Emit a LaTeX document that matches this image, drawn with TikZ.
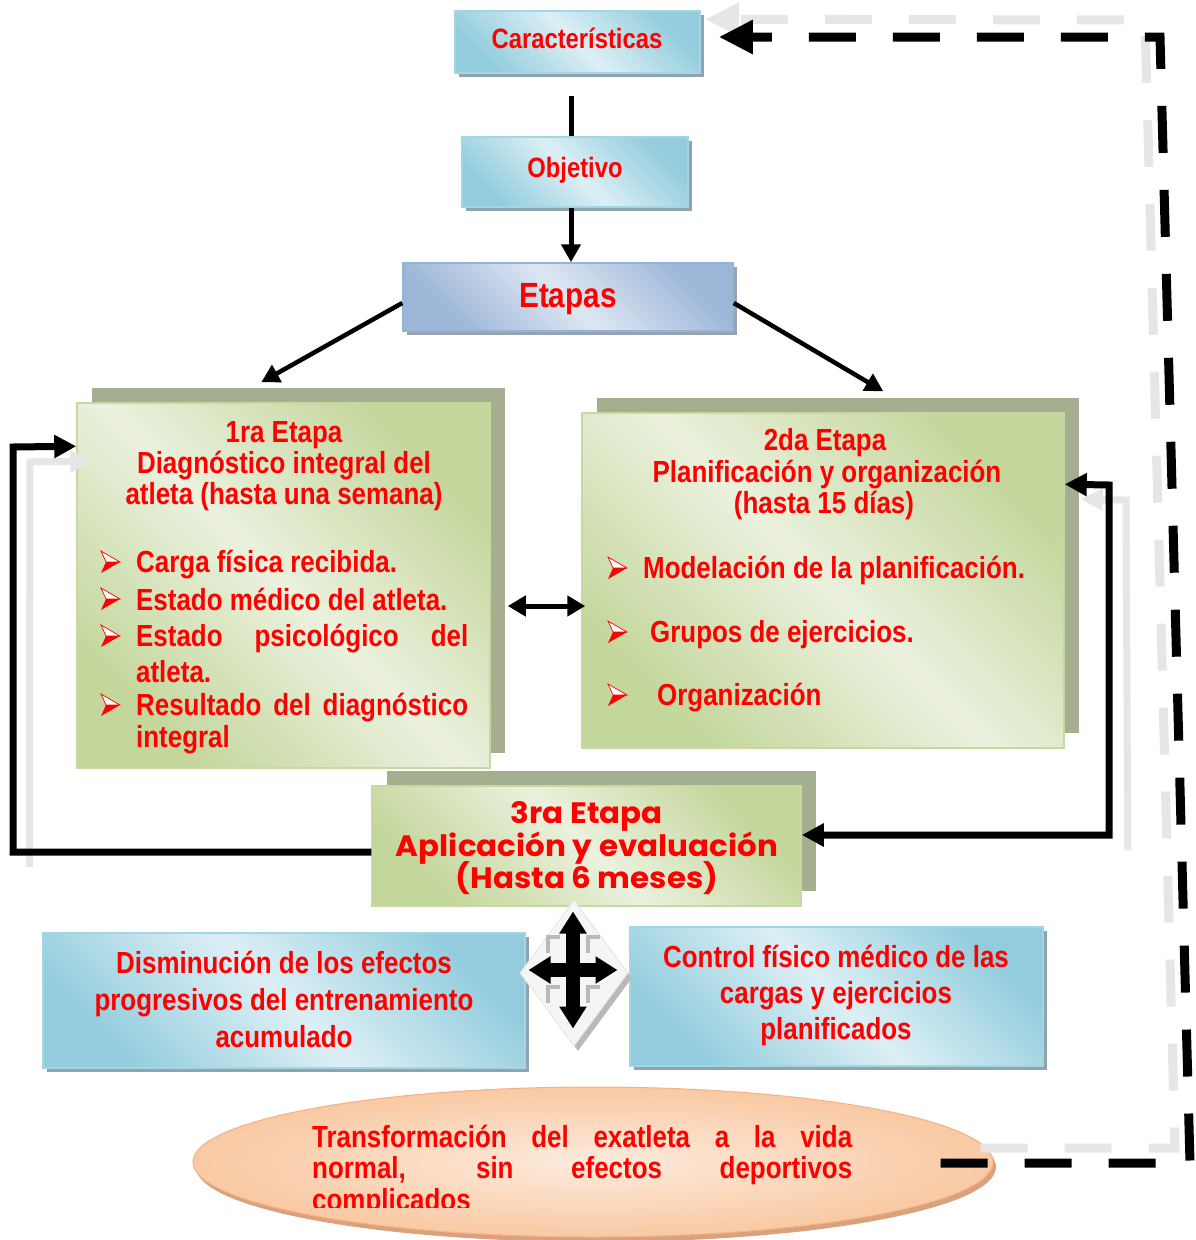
\documentclass[tikz,border=0pt]{standalone}
\usepackage{fontspec}
\setmainfont{Liberation Sans}[FakeStretch=0.85]
\newfontfamily\gothic{Poppins}[FakeStretch=1.05]
\usetikzlibrary{arrows.meta,shapes.geometric,shadows,calc}
\definecolor{bluedark}{HTML}{93CDDD}
\definecolor{bluelight}{HTML}{DDEFF5}
\definecolor{blueline}{HTML}{A3D6E3}
\definecolor{blueshadow}{HTML}{8FA4B0}
\definecolor{lavdark}{HTML}{9CB6D8}
\definecolor{lavlight}{HTML}{DDE7F3}
\definecolor{lavline}{HTML}{95B3D7}
\definecolor{lavshadow}{HTML}{98A3B2}
\definecolor{greendark}{HTML}{C3D69B}
\definecolor{greenlight}{HTML}{EBF1DE}
\definecolor{greenline}{HTML}{C6D9A0}
\definecolor{greenshadow}{HTML}{A6AE90}
\definecolor{peachin}{HTML}{FDEBDD}
\definecolor{peachout}{HTML}{F9C9A3}
\definecolor{peachline}{HTML}{F4B183}
\definecolor{peachshadow}{HTML}{D9A27D}
\definecolor{ghostgray}{HTML}{E6E6E6}
\definecolor{txtred}{HTML}{FF0000}
\newcommand\arrowbullet[2]{%
  \draw[txtred, line width=0.7pt, fill=white] (#1+10,#2) -- (#1-9,#2-11) -- (#1-4,#2) -- cycle;
  \fill[txtred] (#1+10,#2) -- (#1-4,#2) -- (#1-9,#2+11) -- cycle;}
\newcommand\cornermark[2]{%
  \draw[gray!55, line width=4pt] (#1,#2+16) -- (#1,#2) -- (#1+12,#2);}
\begin{document}
\begin{tikzpicture}[x=1pt,y=-1pt,
  box/.style={rectangle, inner sep=0, line width=1.5pt},
  bluebox/.style={box, draw=blueline, top color=bluedark, bottom color=bluedark, middle color=bluelight, shading angle=-45,
    general shadow={fill=blueshadow, shadow xshift=4pt, shadow yshift=-4pt}},
  lavbox/.style={box, draw=lavline, top color=lavdark, bottom color=lavdark, middle color=lavlight, shading angle=-45,
    general shadow={fill=lavshadow, shadow xshift=4pt, shadow yshift=-4pt}},
  greenbox/.style={box, draw=greenline, top color=greendark, bottom color=greendark, middle color=greenlight, shading angle=-45,
    general shadow={fill=greenshadow, shadow xshift=15pt, shadow yshift=15pt}},
  txt/.style={text=txtred, font=\fontsize{30.5}{32}\selectfont\bfseries, inner sep=0, anchor=base},
  ltxt/.style={txt, anchor=base west},
  gtxt/.style={txt, font=\fontsize{29.5}{32}\selectfont\gothic\bfseries},
  conn/.style={draw=black, line width=5pt},
  tip/.style={-{Triangle[length=18pt,width=19pt]}},
  loopline/.style={draw=black, line width=7pt},
  ghost/.style={draw=ghostgray, line width=7pt},
  bigdash/.style={line width=9pt, dash pattern=on 47pt off 37pt}
]
\useasboundingbox (0,0) rectangle (1196,1240);

% ---------- boxes ----------
\node[bluebox, minimum width=245, minimum height=62] (car) at (577.5,42) {};
\node[bluebox, minimum width=226, minimum height=70] (obj) at (575,172) {};
\node[lavbox, minimum width=330, minimum height=68] (et) at (568,297) {};
\node[greenbox, minimum width=413, minimum height=365] (t1) at (283.5,585.5) {};
\node[greenbox, minimum width=482, minimum height=335] (t2) at (823,580.5) {};
\node[greenbox, minimum width=429, minimum height=120] (t3) at (586.5,846) {};
\node[bluebox, minimum width=482, minimum height=135] (bl) at (284,1000.5) {};
\node[bluebox, minimum width=413, minimum height=139] (br) at (836.5,996.5) {};
\node[ellipse, inner sep=0, minimum width=800, minimum height=150, draw=peachline, line width=1pt,
  shading=radial, inner color=peachin, outer color=peachout,
  general shadow={fill=peachshadow, shadow xshift=3pt, shadow yshift=-5pt}] (ell) at (593,1162) {};

% ---------- diamond with cross ----------
\node[diamond, inner sep=0, minimum width=108, minimum height=146, fill=gray!8, draw=gray!18, line width=1pt,
  general shadow={fill=gray!55, shadow xshift=4pt, shadow yshift=-5pt}] (dm) at (574,973) {};
\cornermark{548}{937}
\cornermark{588}{937}
\cornermark{548}{987}
\cornermark{588}{987}
\draw[line width=14pt, {Triangle[length=22pt,width=26pt]}-{Triangle[length=22pt,width=26pt]}]
  ($(dm.north)+(-1,12)$) -- ($(dm.south)+(-1,-18)$);
\draw[line width=14pt, {Triangle[length=22pt,width=26pt]}-{Triangle[length=22pt,width=26pt]}]
  ($(dm.west)+(9,-3)$) -- ($(dm.east)+(-11,-3)$);

% ---------- texts ----------
\node[txt, font=\fontsize{28}{30}\selectfont\bfseries] (carT) at (577,48) {Características};
\node[txt, font=\fontsize{28}{30}\selectfont\bfseries] (objT) at (575,177) {Objetivo};
\node[txt, font=\fontsize{35}{38}\selectfont\bfseries] (etT) at (568,307) {Etapas};

\node[txt] (t1a) at (284,442) {1ra Etapa};
\node[txt] (t1b) at (284,473) {Diagnóstico integral del};
\node[txt] (t1c) at (284,504) {atleta (hasta una semana)};
\node[ltxt] (t1d) at (136,572) {Carga física recibida.};
\node[ltxt] (t1e) at (136,610) {Estado médico del atleta.};
\node[ltxt] (t1f) at (136,646) {\makebox[332pt][s]{Estado psicológico del}};
\node[ltxt] (t1g) at (136,682) {atleta.};
\node[ltxt] (t1h) at (136,715) {\makebox[332pt][s]{Resultado del diagnóstico}};
\node[ltxt] (t1i) at (136,747) {integral};
\arrowbullet{110}{562}
\arrowbullet{110}{599}
\arrowbullet{110}{636}
\arrowbullet{110}{705}

\node[txt] (t2a) at (825,450) {2da Etapa};
\node[txt] (t2b) at (827,482) {Planificación y organización};
\node[txt] (t2c) at (824,513) {(hasta 15 días)};
\node[ltxt] (t2d) at (643,578) {Modelación de la planificación.};
\node[ltxt] (t2e) at (650,642) {Grupos de ejercicios.};
\node[ltxt] (t2f) at (657,705) {Organización};
\arrowbullet{617}{568}
\arrowbullet{617}{632}
\arrowbullet{617}{695}

\node[gtxt] (t3a) at (587,823) {3ra Etapa};
\node[gtxt] (t3b) at (587,856) {Aplicación y evaluación};
\node[gtxt] (t3c) at (587,888) {(Hasta 6 meses)};

\node[txt] (bla) at (284,973) {Disminución de los efectos};
\node[txt] (blb) at (284,1010) {progresivos del entrenamiento};
\node[txt] (blc) at (284,1047) {acumulado};

\node[txt] (bra) at (836,967) {Control físico médico de las};
\node[txt] (brb) at (836,1003) {cargas y ejercicios};
\node[txt] (brc) at (836,1039) {planificados};

\node[ltxt] (ela) at (312,1147) {\makebox[540pt][s]{Transformación del exatleta a la vida}};
\node[ltxt] (elb) at (312,1178) {\makebox[540pt][s]{normal, sin efectos deportivos}};
\begin{scope}
  \clip (300,1185) rectangle (880,1207);
  \node[ltxt] (elc) at (312,1210) {complicados};
\end{scope}

% ---------- connectors ----------
\draw[conn] ($(car.south)+(-6.5,22)$) -- ($(obj.north)+(-4,0)$);
\draw[conn, tip] ($(obj.south)+(-4,0)$) -- ($(et.north)+(3,0)$);
\draw[conn, line width=4.5pt, tip] ($(et.west)+(0,6)$) -- ($(t1.north west)+(185,-20)$);
\draw[conn, line width=4.5pt, tip] ($(et.east)+(0,6)$) -- ($(t2.north west)+(302,-21)$);
\draw[conn, {Triangle[length=18pt,width=20pt]}-{Triangle[length=18pt,width=20pt]}]
  ($(t1.east)+(17,20.5)$) -- ($(t2.west)+(4,25.5)$);

% ghost connectors
\draw[ghost, -{Triangle[length=22pt,width=21pt]}] ($(t3.south west)+(-342,-40)$) -- (30,462) -- ($(t1.north west)+(16,59)$);
\draw[ghost, -{Triangle[length=22pt,width=21pt]}] ($(t3.east)+(326,4)$) -- (1126,500) -- ($(t2.north east)+(16,87)$);
\draw[ghostgray, bigdash, -{Triangle[length=34pt,width=31pt]}]
  ($(ell.east)+(-13,-14)$) -- (1175,1148) -- (1145,20) -- ($(car.north east)+(4,9)$);

% black loops
\draw[loopline, -{Triangle[length=22pt,width=22pt]}] ($(t3.west)+(0,6)$) -- (13,852) -- (13,447) -- ($(t1.north west)+(0,44)$);
\draw[loopline, {Triangle[length=22pt,width=22pt]}-{Triangle[length=22pt,width=22pt]}]
  ($(t2.north east)+(0,72)$) -- (1109,485) -- (1109,835) -- ($(t3.east)+(0,-11)$);
\draw[black, bigdash, -{Triangle[length=34pt,width=32pt]}]
  ($(ell.east)+(-53,1)$) -- (1190,1163) -- (1160,37) -- ($(car.east)+(18,-5)$);
\end{tikzpicture}
\end{document}
